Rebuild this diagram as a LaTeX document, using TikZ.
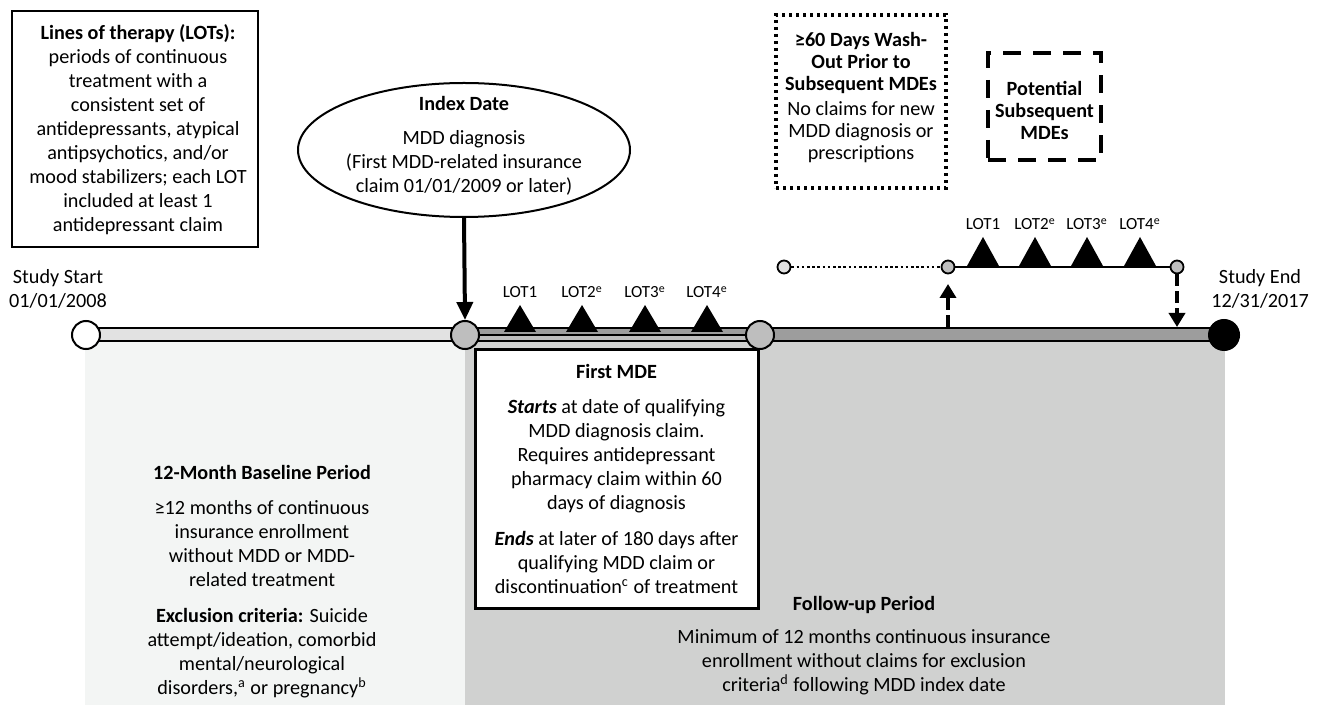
\documentclass[tikz,border=0pt]{standalone}
\usepackage{fontspec}
\setmainfont{Carlito}
\usetikzlibrary{arrows.meta,shapes.geometric}
\definecolor{basebg}{HTML}{F3F5F4}
\definecolor{fupbg}{HTML}{D0D1D0}
\definecolor{lbar}{HTML}{E2E2E2}
\definecolor{dbar}{HTML}{9D9D9D}
\definecolor{cgray}{HTML}{BEBEBE}
\definecolor{ulight}{HTML}{E0E0E0}
\begin{document}
\begin{tikzpicture}[x=0.5pt,y=-0.5pt,
  txt/.style={font=\fontsize{10.1}{12}\selectfont, align=center, inner sep=0pt},
  lot/.style={font=\fontsize{8.5}{9}\selectfont, inner sep=0pt},
  bigdot/.style={circle, draw=black, line width=1pt, minimum size=14pt, inner sep=0pt},
  smalldot/.style={circle, draw=black, line width=0.9pt, minimum size=6.5pt, inner sep=0pt, fill=cgray},
  barbox/.style={draw=black, line width=1pt},
  dasharrow/.style={line width=2.2pt, dash pattern=on 6pt off 2.5pt, -{Triangle[length=7pt,width=8pt]}},
  framebox/.style={draw=black, line width=1pt, inner sep=0pt},
]
\useasboundingbox (0,0) rectangle (1320,710);
% background panels
\fill[basebg] (85,335) rectangle (465,705);
\fill[fupbg] (465,335) rectangle (1225,705);
% bars
\draw[barbox, fill=lbar] (86,328) rectangle (465,341);
\draw[barbox, fill=dbar] (465,328) rectangle (760,341);
\fill[cgray] (465,336) rectangle (760,340);
\draw[line width=0.8pt] (465,335) -- (760,335);
\draw[barbox, fill=dbar] (760,328) rectangle (1224,341);
% middle LOT triangles
\foreach \x/\t in {520/LOT1, 582/LOT2\textsuperscript{e}, 645/LOT3\textsuperscript{e}, 707/LOT4\textsuperscript{e}}{
  \fill ({\x-16},332) -- (\x,305) -- ({\x+16},332) -- cycle;
  \node[lot] (ml\x) at (\x,292) {\t};
}
% circles
\node[bigdot, fill=white] (c0) at (86,335) {};
\node[bigdot, fill=cgray] (c1) at (465,335) {};
\node[bigdot, fill=cgray] (c2) at (760,335) {};
\node[bigdot, fill=black, minimum size=15pt] (c3) at (1224,335) {};
% first MDE box
\node[framebox, line width=1.5pt, fill=white, minimum width=141.5pt, minimum height=129pt] (mde) at (616.5,479) {};
\node[txt] (mdet) at (616.5,479) {\textbf{First MDE}\\[5.5pt]
\textbf{\textit{Starts}} at date of qualifying\\ MDD diagnosis claim.\\ Requires antidepressant\\ pharmacy claim within 60\\ days of diagnosis\\[6pt]
\textbf{\textit{Ends}} at later of 180 days after\\ qualifying MDD claim or\\ discontinuation\textsuperscript{c} of treatment};
% index date
\node[ellipse, draw=black, line width=1pt, minimum width=166pt, minimum height=67pt, inner sep=0pt] (idx) at (464,150) {};
\node[txt] (idxt) at (464,146) {\textbf{Index Date}\\[5pt] MDD diagnosis\\ (First MDD-related insurance\\ claim 01/01/2009 or later)};
\draw[line width=2pt, -{Triangle[length=9pt,width=8pt]}] (idx.south) -- (c1.north);
% upper subsequent MDE line
\node[smalldot, fill=ulight] (u0) at (784,267) {};
\node[smalldot] (u1) at (948,267) {};
\node[smalldot] (u2) at (1177,267) {};
\draw[line width=1.2pt, dash pattern=on 1.3pt off 1.3pt] (u0) -- (u1);
\draw[line width=1pt] (u1) -- (u2);
\foreach \x/\t in {983/LOT1, 1035/LOT2\textsuperscript{e}, 1087/LOT3\textsuperscript{e}, 1140/LOT4\textsuperscript{e}}{
  \fill ({\x-16},266) -- (\x,237) -- ({\x+16},266) -- cycle;
  \node[lot] (ul\x) at (\x,224) {\t};
}
\coordinate (upfoot) at (948,327);
\coordinate (uptip) at (948,284);
\draw[dasharrow] (upfoot) -- (uptip);
\coordinate (dntip) at (1177,327);
\draw[dasharrow] (u2.south) -- (dntip);
% boxes top
\node[framebox, minimum width=123pt, minimum height=118pt] (lotbox) at (135,129) {};
\node[txt] (lotboxt) at (138,130) {\textbf{Lines of therapy (LOTs):}\\ periods of continuous\\ treatment with a\\ consistent set of\\ antidepressants, atypical\\ antipsychotics, and/or\\ mood stabilizers; each LOT\\ included at least 1\\ antidepressant claim};
\node[framebox, line width=1.6pt, dash pattern=on 1.6pt off 1.9pt, minimum width=85pt, minimum height=86.5pt] (wash) at (861,101.5) {};
\node[txt, font=\fontsize{10.1}{11}\selectfont] (washt) at (861,98) {\textbf{≥60 Days Wash-}\\ \textbf{Out Prior to}\\ \textbf{Subsequent MDEs}\\[1.5pt] No claims for new\\ MDD diagnosis or\\ prescriptions};
\node[framebox, line width=2pt, dash pattern=on 9pt off 6pt, minimum width=56.5pt, minimum height=53.5pt] (pot) at (1044.5,106.5) {};
\node[txt, font=\fontsize{10.1}{11}\selectfont] (pott) at (1044.5,110) {\textbf{Potential}\\ \textbf{Subsequent}\\ \textbf{MDEs}};
% endpoint labels
\node[txt] (ss) at (58,289) {Study Start\\ 01/01/2008};
\node[txt] (se) at (1260,289) {Study End\\ 12/31/2017};
% period texts
\node[txt] (bl) at (262,582) {\textbf{12-Month Baseline Period}\\[5.5pt] ≥12 months of continuous\\ insurance enrollment\\ without MDD or MDD-\\ related treatment\\[6pt] \textbf{Exclusion criteria:} Suicide\\ attempt/ideation, comorbid\\ mental/neurological\\ disorders,\textsuperscript{a} or pregnancy\textsuperscript{b}};
\node[txt] (fu) at (864,646) {\textbf{Follow-up Period}\\[4.5pt] Minimum of 12 months continuous insurance\\ enrollment without claims for exclusion\\ criteria\textsuperscript{d} following MDD index date};
\end{tikzpicture}
\end{document}
